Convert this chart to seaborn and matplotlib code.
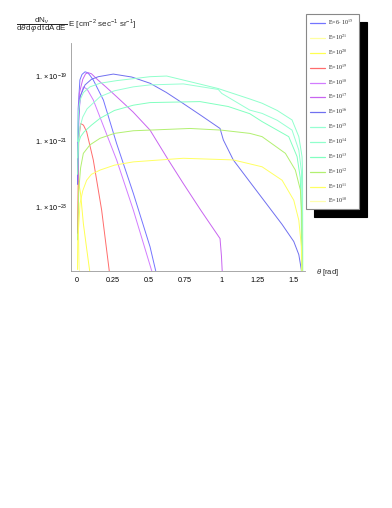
import numpy as np
import pandas as pd
import matplotlib
matplotlib.use('Agg')
import matplotlib.pyplot as plt
import seaborn as sns
from matplotlib.ticker import FixedLocator, LogLocator, MultipleLocator, NullFormatter
from matplotlib.font_manager import FontProperties

# energias (ordem da legenda) e cores
labels = ['E=6$\\cdot$ 10$^{15}$', 'E=10$^{21}$', 'E=10$^{20}$', 'E=10$^{19}$', 'E=10$^{18}$',
          'E=10$^{17}$', 'E=10$^{16}$', 'E=10$^{15}$', 'E=10$^{14}$', 'E=10$^{13}$',
          'E=10$^{12}$', 'E=10$^{11}$', 'E=10$^{10}$']
cores = ['#7474ff', '#ffffa0', '#ffff50', '#ff6c6c', '#d27cff', '#c864f0', '#7070f0',
         '#96ffd2', '#90ffcc', '#82ffc0', '#b2f070', '#ffff62', '#ffffb0']

# valores: theta em rad, log10 do fluxo
theta_6e15 = [0.004, 0.008, 0.02, 0.035, 0.056, 0.075, 0.09, 0.113, 0.183, 0.275, 0.391, 0.507, 0.56]
logf_6e15 = [-22.3, -20.0, -19.12, -18.95, -18.87, -18.9, -18.98, -19.12, -19.73, -21.06, -22.58, -24.21, -25.2]

theta_e21 = [0.006, 0.012, 0.016, 0.02]
logf_e21 = [-23.5, -24.0, -24.9, -25.4]

theta_e20 = [0.004, 0.01, 0.025, 0.044, 0.065, 0.088, 0.095]
logf_e20 = [-24.9, -22.2, -22.6, -23.5, -24.2, -24.95, -25.3]

theta_e19 = [0.004, 0.012, 0.026, 0.045, 0.067, 0.113, 0.171, 0.224, 0.23]
logf_e19 = [-23.8, -20.9, -20.45, -20.5, -20.7, -21.56, -23.09, -24.95, -25.2]

theta_e18 = [0.004, 0.012, 0.025, 0.044, 0.07, 0.113, 0.19, 0.275, 0.391, 0.519, 0.53]
logf_e18 = [-22.3, -20.2, -19.6, -19.33, -19.4, -19.73, -20.6, -21.56, -23.09, -24.95, -25.2]

theta_e17 = [0.004, 0.016, 0.04, 0.06, 0.079, 0.1, 0.14, 0.2, 0.275, 0.39, 0.507, 0.634, 0.738, 0.86,
             0.993, 1.003, 1.012]
logf_e17 = [-22.3, -19.53, -19.1, -18.93, -18.9, -18.93, -19.1, -19.33, -19.63, -20.1, -20.65, -21.56,
            -22.28, -23.1, -23.96, -24.5, -25.3]

theta_e16 = [0.004, 0.01, 0.021, 0.056, 0.1, 0.148, 0.252, 0.38, 0.507, 0.62, 0.738, 0.86, 0.993, 1.016,
             1.085, 1.2, 1.3, 1.424, 1.505, 1.54, 1.557, 1.565]
logf_e16 = [-22.3, -20.4, -19.63, -19.27, -19.1, -19.02, -18.94, -19.03, -19.22, -19.5, -19.84, -20.2,
            -20.6, -20.95, -21.56, -22.23, -22.81, -23.53, -24.05, -24.45, -24.9, -25.3]

theta_e15 = [0.004, 0.01, 0.021, 0.04, 0.07, 0.16, 0.26, 0.391, 0.507, 0.738, 0.981, 1.005, 1.2, 1.285,
             1.39, 1.493, 1.54, 1.558, 1.563, 1.565]
logf_e15 = [-21.5, -21.0, -20.55, -20.25, -20.0, -19.63, -19.45, -19.33, -19.27, -19.24, -19.41, -19.53,
            -20.04, -20.14, -20.35, -20.65, -21.26, -21.9, -23.0, -25.3]

theta_e14 = [0.004, 0.01, 0.021, 0.045, 0.09, 0.16, 0.275, 0.507, 0.623, 0.736, 0.979, 1.2, 1.285, 1.39,
             1.493, 1.54, 1.5625, 1.566, 1.568]
logf_e14 = [-21.0, -20.1, -19.73, -19.5, -19.33, -19.22, -19.14, -19.02, -19.0, -19.12, -19.38, -19.7,
            -19.83, -20.05, -20.34, -20.85, -21.46, -22.0, -25.3]

theta_e13 = [0.004, 0.009, 0.025, 0.05, 0.1, 0.16, 0.26, 0.391, 0.507, 0.854, 1.05, 1.2, 1.285, 1.47,
             1.528, 1.55, 1.557, 1.559]
logf_e13 = [-22.0, -21.06, -20.85, -20.7, -20.5, -20.29, -20.05, -19.89, -19.81, -19.78, -19.93, -20.15,
            -20.39, -20.85, -21.46, -22.1, -23.0, -25.3]

theta_e12 = [0.004, 0.012, 0.025, 0.044, 0.09, 0.16, 0.26, 0.391, 0.785, 1.0, 1.2, 1.285, 1.447, 1.516,
             1.551, 1.56, 1.563]
logf_e12 = [-24.0, -22.5, -21.8, -21.36, -21.1, -20.9, -20.75, -20.67, -20.6, -20.65, -20.75, -20.85,
            -21.36, -21.87, -22.48, -23.2, -25.3]

theta_e11 = [0.004, 0.01, 0.021, 0.04, 0.067, 0.1, 0.16, 0.26, 0.391, 0.738, 1.085, 1.285, 1.424, 1.505,
             1.54, 1.558, 1.563]
logf_e11 = [-24.9, -23.7, -22.89, -22.5, -22.18, -22.0, -21.87, -21.72, -21.62, -21.51, -21.56, -21.77,
            -22.18, -22.79, -23.4, -24.21, -25.3]

# E=10^10 fica abaixo da escala do grafico
theta_e10 = [0.004, 0.02]
logf_e10 = [-25.3, -25.4]

series = [(theta_6e15, logf_6e15), (theta_e21, logf_e21), (theta_e20, logf_e20), (theta_e19, logf_e19),
          (theta_e18, logf_e18), (theta_e17, logf_e17), (theta_e16, logf_e16), (theta_e15, logf_e15),
          (theta_e14, logf_e14), (theta_e13, logf_e13), (theta_e12, logf_e12), (theta_e11, logf_e11),
          (theta_e10, logf_e10)]

linhas = []
for lab, (th, lf) in zip(labels, series):
    for t, f in zip(th, lf):
        linhas.append({'theta': t, 'fluxo': 10.0 ** f, 'E': lab})
dados = pd.DataFrame(linhas)

sns.set_theme(style='white')
plt.rcParams['font.family'] = ['Liberation Sans', 'DejaVu Sans']
plt.rcParams['mathtext.fontset'] = 'custom'
plt.rcParams['mathtext.rm'] = 'Liberation Sans'
plt.rcParams['mathtext.it'] = 'Liberation Sans:italic'
plt.rcParams['mathtext.bf'] = 'Liberation Sans:bold'

fig = plt.figure(figsize=(3.92, 5.08), dpi=100)
ax = fig.add_axes([71 / 392, 1 - 271 / 508, 234 / 392, 228 / 508])

sns.lineplot(data=dados, x='theta', y='fluxo', hue='E', hue_order=labels,
             palette=dict(zip(labels, cores)), estimator=None, sort=False,
             linewidth=0.7, ax=ax)

ax.set_yscale('log')
ax.set_xlim(-0.0417, 1.583)
ax.set_ylim(1.12e-25, 1.02e-18)

ax.xaxis.set_major_locator(FixedLocator([0, 0.25, 0.5, 0.75, 1, 1.25, 1.5]))
ax.set_xticklabels(['0', '0.25', '0.5', '0.75', '1', '1.25', '1.5'])
ax.xaxis.set_minor_locator(MultipleLocator(0.05))
ax.yaxis.set_major_locator(FixedLocator([1e-23, 1e-21, 1e-19]))
ax.set_yticklabels([r'$1.\times10^{-23}$', r'$1.\times10^{-21}$', r'$1.\times10^{-19}$'])
ax.yaxis.set_minor_locator(LogLocator(base=10, subs=np.arange(1, 10), numticks=40))
ax.yaxis.set_minor_formatter(NullFormatter())

ax.tick_params(which='both', direction='in', color='#9a9a9a', width=0.5, labelsize=5.2,
               labelcolor='black')
ax.tick_params(which='major', length=4)
ax.tick_params(which='minor', length=2)
ax.tick_params(axis='x', pad=4)
ax.tick_params(axis='y', pad=2.5)

for lado in ['top', 'right']:
    ax.spines[lado].set_visible(False)
for lado in ['left', 'bottom']:
    ax.spines[lado].set_color('#9a9a9a')
    ax.spines[lado].set_linewidth(0.6)

ax.set_xlabel('')
ax.set_ylabel('')

fig.text(16 / 392, 1 - 25 / 508,
         r'$\dfrac{\mathrm{dN}_\nu}{\mathrm{d}\theta\,\mathrm{d}\varphi\,\mathrm{dt\,dA\,dE}}$'
         r' E [cm$^{-2}$ sec$^{-1}$ sr$^{-1}$]',
         fontsize=5.8, ha='left', va='center')
fig.text(316 / 392, 1 - 272 / 508, r'$\theta$ [rad]', fontsize=5.5, ha='left', va='center')

handles, labs = ax.get_legend_handles_labels()
for h in handles:
    h.set_linewidth(0.9)
prop = FontProperties(family='Liberation Serif', size=4.3, math_fontfamily='stix')
leg = ax.legend(handles, labs, prop=prop, loc='upper left',
                bbox_to_anchor=(306 / 392, 1 - 208 / 508, 53 / 392, 194 / 508),
                bbox_transform=fig.transFigure, mode='expand', borderaxespad=0,
                frameon=True, fancybox=False, borderpad=0.6, labelspacing=0.83,
                handlelength=2.5, handletextpad=0.6,
                shadow={'ox': 6, 'oy': -6, 'color': 'black', 'alpha': 1})
leg.get_frame().set_edgecolor('#888888')
leg.get_frame().set_linewidth(0.8)
leg.get_frame().set_facecolor('white')
leg.get_frame().set_alpha(1)

plt.savefig('out.png', dpi=100)
